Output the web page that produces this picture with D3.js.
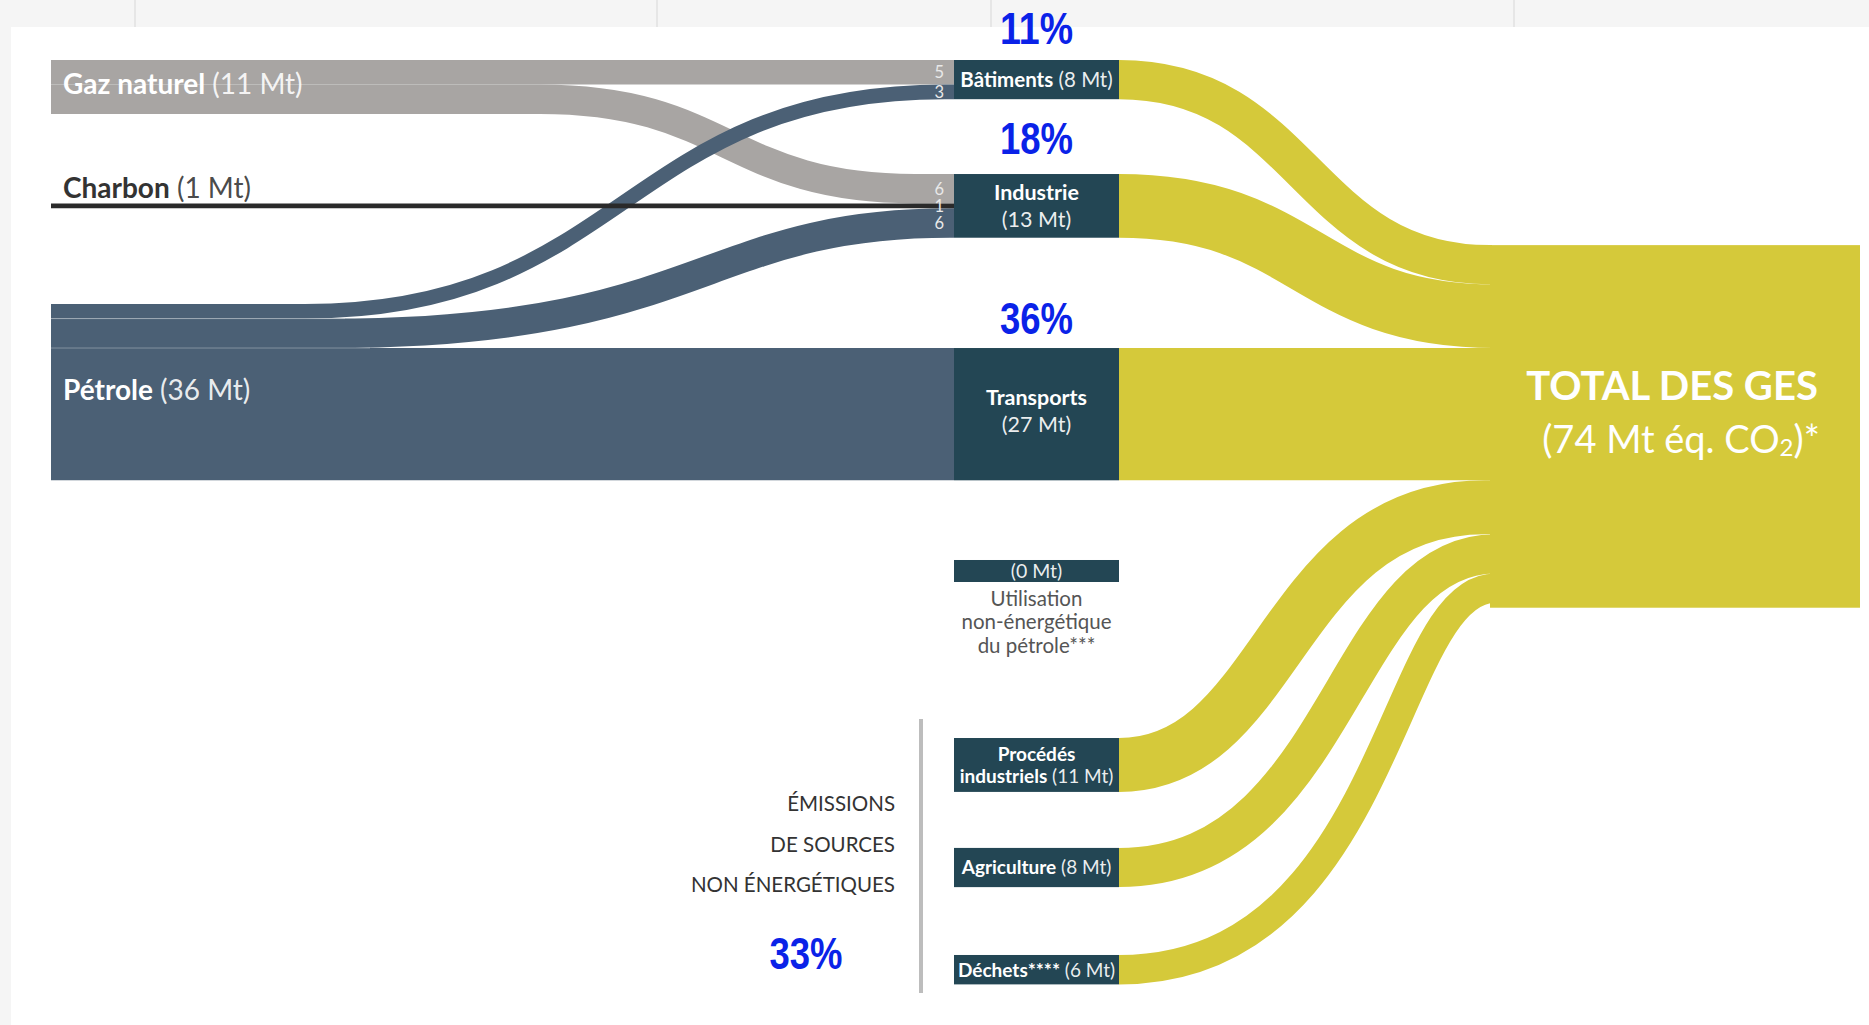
<!DOCTYPE html>
<html><head><meta charset="utf-8">
<script src="https://cdn.jsdelivr.net/npm/d3@7"></script>
<style>
html,body{margin:0;padding:0;background:#f5f5f5;}
svg{display:block;}
text{font-family:Lato,"Open Sans",sans-serif;}
</style></head>
<body>
<svg id="chart" width="1869" height="1025"></svg>
<script>
// ================= DATA =================
const sources = ["Gaz naturel", "Charbon", "Pétrole"];
const sourceValues = [11, 1, 36];
const sectors = ["Bâtiments", "Industrie", "Transports", "Utilisation non-énergétique du pétrole***", "Procédés industriels", "Agriculture", "Déchets****"];
const sectorValues = [8, 13, 27, 0, 11, 8, 6];
const linkSources = ["Gaz naturel", "Gaz naturel", "Charbon", "Pétrole", "Pétrole", "Pétrole"];
const linkTargets = ["Bâtiments", "Industrie", "Industrie", "Bâtiments", "Industrie", "Transports"];
const linkValues = [5, 6, 1, 3, 6, 27];
const totalValue = 74;
const totalTitle = "TOTAL DES GES";
const shareLabels = ["11%", "18%", "36%", "33%"];
const groupLabelLines = ["ÉMISSIONS", "DE SOURCES", "NON ÉNERGÉTIQUES"];
const utilLabelLines = ["Utilisation", "non-énergétique", "du pétrole***"];

// ================= LAYOUT =================
const W = 1869, H = 1025;
const K = 4.9;                       // px per Mt
const yU = d3.scaleLinear().domain([0, 1]).range([60, 60 + K]);   // stack units -> px
const hV = d3.scaleLinear().domain([0, totalValue]).range([0, totalValue * K]); // Mt -> px
const X_SRC = 51, X_MID0 = 954, X_MID1 = 1119, X_TOT0 = 1490, X_TOT1 = 1860;
const sourceSlots = [0, 29.27, 49.78];
const sectorSlots = [0, 23.27, 58.78, 102.04, 138.37, 160.8, 182.65];
const totalSlot = 37.78;
const UTIL_MIN_H = 22;
const linkShape = [[540, 915, 0], [540, 915, 0], [540, 915, 0], [305, 945, 0], [330, 950, 0.1], [300, 940, 0]];
const yellowShape = [[1119, 1490, 0], [1119, 1495, 0], [1119, 1490, 0], [1119, 1490, 0], [1119, 1485, -0.06], [1119, 1495, 0.09], [1119, 1495, 0.22]];

const C_GAZ = "#a8a5a3", C_PET = "#4b6075", C_CHA = "#2a2a2a", C_NODE = "#234654", C_YEL = "#d5c93a", C_BLUE = "#0a22e8";
const linkColor = s => s === "Gaz naturel" ? C_GAZ : s === "Charbon" ? C_CHA : C_PET;

const svg = d3.select("#chart");

// ---------- page background ----------
svg.append("rect").attr("x", 0).attr("y", 0).attr("width", W).attr("height", H).attr("fill", "#f5f5f5");
svg.append("rect").attr("x", 11).attr("y", 27).attr("width", W - 11).attr("height", H - 27).attr("fill", "#ffffff");
svg.selectAll("line.grid").data([135, 657, 991, 1514]).join("line")
  .attr("x1", d => d).attr("x2", d => d).attr("y1", 0).attr("y2", 27)
  .attr("stroke", "#e0e0e0").attr("stroke-width", 1.5);

// ---------- link geometry ----------
function band(x0, y0, x1, y1, c0, c1, skew) {
  const span = c1 - c0;
  const a = c0 + span * (0.5 + skew), b = c1 - span * (0.5 - skew);
  const p = d3.path();
  p.moveTo(x0, y0); p.lineTo(c0, y0);
  p.bezierCurveTo(a, y0, b, y1, c1, y1);
  p.lineTo(x1, y1);
  return p.toString();
}

// stack offsets
const srcOff = sources.map(() => 0);
const tgtOff = sectors.map(() => 0);
const links = linkValues.map((v, i) => {
  const si = sources.indexOf(linkSources[i]);
  const ti = sectors.indexOf(linkTargets[i]);
  return { i, si, ti, v, src: linkSources[i], tgt: linkTargets[i] };
});
links.forEach(l => { l.sy = yU(sourceSlots[l.si]) + hV(srcOff[l.si]) + hV(l.v) / 2; srcOff[l.si] += l.v; });
links.slice().sort((a, b) => a.si - b.si || a.i - b.i).forEach(l => {
  l.ty = yU(sectorSlots[l.ti]) + hV(tgtOff[l.ti]) + hV(l.v) / 2; tgtOff[l.ti] += l.v;
});

const drawOrder = ["Gaz naturel", "Pétrole", "Charbon"];
const gLinks = svg.append("g").attr("fill", "none");
drawOrder.forEach(s => {
  links.filter(l => l.src === s).forEach(l => {
    const [c0, c1, sk] = linkShape[l.i];
    gLinks.append("path")
      .attr("d", band(X_SRC, l.sy, X_MID0, l.ty, c0, c1, sk))
      .attr("stroke", linkColor(l.src))
      .attr("stroke-width", hV(l.v));
  });
});
// faint separators between stacked pétrole bands at the source
links.filter(l => l.src === "Pétrole" && l.v < 10).forEach(l => {
  const yb = l.sy + hV(l.v) / 2;
  svg.append("line").attr("x1", X_SRC).attr("x2", linkShape[l.i][0] + 40).attr("y1", yb).attr("y2", yb)
    .attr("stroke", "#ffffff").attr("stroke-opacity", 0.3).attr("stroke-width", 1);
});

// small value labels near the sector nodes
svg.append("g").selectAll("text").data(links.filter(l => l.v < 10)).join("text")
  .attr("x", 944).attr("y", l => l.ty + 6)
  .attr("text-anchor", "end").attr("font-size", 16.5).attr("fill", "#e9e9e9")
  .text(l => l.v);

// ---------- yellow links to total ----------
const gYel = svg.append("g").attr("fill", "none");
let totOff = 0;
sectors.forEach((s, i) => {
  const v = sectorValues[i];
  if (v <= 0) return;
  const sy = yU(sectorSlots[i]) + hV(v) / 2;
  const ty = yU(totalSlot) + hV(totOff) + hV(v) / 2;
  totOff += v;
  const [c0, c1, sk] = yellowShape[i];
  gYel.append("path")
    .attr("d", band(X_MID1, sy, X_TOT0 + 2, ty, c0, c1, sk))
    .attr("stroke", C_YEL).attr("stroke-width", hV(v));
});
// total node
svg.append("rect")
  .attr("x", X_TOT0).attr("y", yU(totalSlot))
  .attr("width", X_TOT1 - X_TOT0).attr("height", hV(totalValue))
  .attr("fill", C_YEL);

// ---------- sector nodes ----------
const gNodes = svg.append("g");
sectors.forEach((s, i) => {
  const v = sectorValues[i];
  gNodes.append("rect")
    .attr("x", X_MID0).attr("y", yU(sectorSlots[i]))
    .attr("width", X_MID1 - X_MID0).attr("height", v > 0 ? hV(v) : UTIL_MIN_H)
    .attr("fill", C_NODE);
});

// ---------- labels ----------
const CX = (X_MID0 + X_MID1) / 2;
function nodeLabel(i, lines, size, lhf, shift) {
  const top = yU(sectorSlots[i]);
  const hh = sectorValues[i] > 0 ? hV(sectorValues[i]) : UTIL_MIN_H;
  const c = top + hh / 2 + (shift || 0);
  const t = svg.append("text").attr("text-anchor", "middle").attr("font-size", size).attr("fill", "#ffffff");
  const lh = size * (lhf || 1.2);
  const first = c - (lines.length - 1) * lh / 2 + size * 0.36;
  lines.forEach((ln, j) => {
    const base = t.append("tspan").attr("x", CX).attr("y", first + j * lh);
    ln.forEach(([str, bold]) => {
      base.append("tspan").attr("font-weight", bold ? 700 : 400).attr("fill-opacity", bold ? 1 : 0.92).text(str);
    });
  });
}
const mt = i => `(${sectorValues[i]} Mt)`;
nodeLabel(0, [[["Bâtiments", true], [" " + mt(0), false]]], 20.5);
nodeLabel(1, [[["Industrie", true]], [[mt(1), false]]], 21.5, 1.26);
nodeLabel(2, [[["Transports", true]], [[mt(2), false]]], 21.5, 1.26, -3);
nodeLabel(3, [[[mt(3), false]]], 19.5);
nodeLabel(4, [[["Procédés", true]], [["industriels", true], [" " + mt(4), false]]], 19, 1.16);
nodeLabel(5, [[["Agriculture", true], [" " + mt(5), false]]], 19);
nodeLabel(6, [[["Déchets****", true], [" " + mt(6), false]]], 19);

// utilisation description
svg.append("g").selectAll("text").data(utilLabelLines).join("text")
  .attr("x", CX).attr("y", (d, j) => yU(sectorSlots[3]) + UTIL_MIN_H + 24 + j * 23.5)
  .attr("text-anchor", "middle").attr("font-size", 20.5).attr("fill", "#555")
  .text(d => d);

// source labels
const srcLabelY = [94, 198, 400];
const srcLabelFill = ["#ffffff", "#333333", "#ffffff"];
sources.forEach((s, i) => {
  const t = svg.append("text").attr("x", 63).attr("y", srcLabelY[i]).attr("font-size", 28).attr("fill", srcLabelFill[i]);
  t.append("tspan").attr("font-weight", 700).text(s);
  t.append("tspan").attr("font-weight", 400).attr("fill-opacity", 0.9).text(` (${sourceValues[i]} Mt)`);
});

// total label
const tt = svg.append("text").attr("text-anchor", "middle").attr("fill", "#ffffff");
tt.append("tspan").attr("x", 1672).attr("y", 400).attr("font-size", 40).attr("font-weight", 700).text(totalTitle);
const t2 = tt.append("tspan").attr("x", 1681).attr("y", 453).attr("font-size", 38).attr("font-weight", 400);
t2.append("tspan").text(`(${totalValue} Mt éq. CO`);
t2.append("tspan").attr("font-size", 24).attr("dy", 3).text("2");
t2.append("tspan").attr("dy", -3).text(")*");

// group label + divider
svg.append("line").attr("x1", 921).attr("x2", 921).attr("y1", 719).attr("y2", 993)
  .attr("stroke", "#bdbdbd").attr("stroke-width", 4);
svg.append("g").selectAll("text").data(groupLabelLines).join("text")
  .attr("x", 895).attr("y", (d, j) => 811 + j * 40.5)
  .attr("text-anchor", "end").attr("font-size", 20.5).attr("fill", "#333")
  .text(d => d);

// share percentages
const shareX = [CX, CX, CX, 806];
const shareY = [yU(sectorSlots[0]) - 16, yU(sectorSlots[1]) - 20, yU(sectorSlots[2]) - 14, 969];
svg.append("g").selectAll("text").data(shareLabels).join("text")
  .attr("x", (d, i) => shareX[i]).attr("y", (d, i) => shareY[i])
  .attr("text-anchor", "middle")
  .style("font-family", '"Liberation Sans","Arial",sans-serif')
  .attr("font-weight", 700).attr("font-size", 44).attr("fill", C_BLUE)
  .attr("textLength", 73).attr("lengthAdjust", "spacingAndGlyphs")
  .text(d => d);
</script>
</body></html>
